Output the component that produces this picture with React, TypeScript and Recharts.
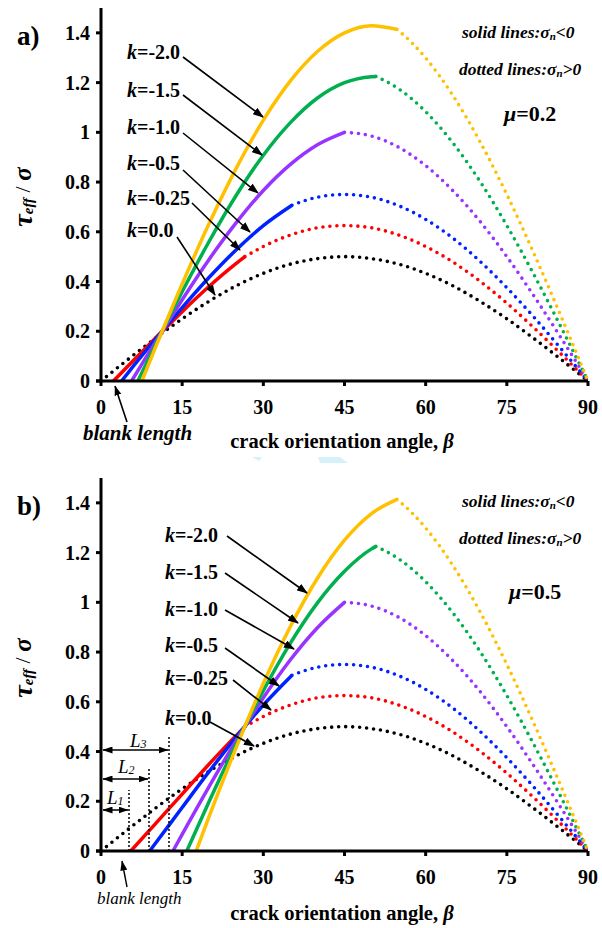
import { LineChart, Line, XAxis, YAxis } from "recharts";

type Pt = [number, number];

const serif = "'Liberation Serif', 'Times New Roman', serif";

const xTicks = [0, 15, 30, 45, 60, 75, 90];
const yTicks = [0, 0.2, 0.4, 0.6, 0.8, 1, 1.2, 1.4];
const kNames = ["-2.0", "-1.5", "-1.0", "-0.5", "-0.25", "0.0"];
const kColors = ["#FFC000", "#00B050", "#9933FF", "#0022FF", "#FF0000", "#000000"];

// dotted parts (sigma_n > 0) - same for both friction values
const dotK0: Pt[] = [[0, 0], [5, 0.087], [10, 0.171], [15, 0.25], [20, 0.321], [25, 0.383], [30, 0.433], [35, 0.47], [40, 0.492], [45, 0.5], [50, 0.492], [55, 0.47], [60, 0.433], [65, 0.383], [70, 0.321], [75, 0.25], [80, 0.171], [85, 0.087], [90, 0]];
const dotK025: Pt[] = [[26.6, 0.5], [30, 0.541], [35, 0.587], [40, 0.616], [45, 0.625], [50, 0.616], [55, 0.587], [60, 0.541], [65, 0.479], [70, 0.402], [75, 0.313], [80, 0.214], [85, 0.109], [90, 0]];
const dotK05: Pt[] = [[35.3, 0.707], [40, 0.739], [45, 0.75], [50, 0.739], [55, 0.705], [60, 0.65], [65, 0.575], [70, 0.482], [75, 0.375], [80, 0.257], [85, 0.13], [90, 0]];
const dotK10: Pt[] = [[45, 1], [50, 0.985], [55, 0.94], [60, 0.866], [65, 0.766], [70, 0.643], [75, 0.5], [80, 0.342], [85, 0.174], [90, 0]];
const dotK15: Pt[] = [[50.8, 1.225], [55, 1.175], [60, 1.083], [65, 0.958], [70, 0.804], [75, 0.625], [80, 0.428], [85, 0.217], [90, 0]];
const dotK20: Pt[] = [[54.7, 1.414], [57.5, 1.359], [60, 1.299], [65, 1.149], [70, 0.964], [75, 0.75], [80, 0.513], [85, 0.261], [90, 0]];

// solid parts (sigma_n < 0), mu = 0.2
const solA_K025: Pt[] = [[2.3, 0], [5, 0.06], [10, 0.171], [15, 0.279], [20, 0.381], [25, 0.473], [26.6, 0.5]];
const solA_K05: Pt[] = [[3.8, 0], [5, 0.033], [10, 0.166], [15, 0.295], [20, 0.417], [25, 0.528], [30, 0.625], [35.3, 0.707]];
const solA_K10: Pt[] = [[5.65, 0], [7.5, 0.066], [10, 0.154], [15, 0.327], [20, 0.49], [25, 0.637], [30, 0.766], [35, 0.871], [40, 0.95], [45, 1]];
const solA_K15: Pt[] = [[6.8, 0], [10, 0.143], [15, 0.359], [20, 0.562], [25, 0.747], [30, 0.908], [35, 1.039], [40, 1.138], [45, 1.2], [50, 1.224], [50.8, 1.225]];
const solA_K20: Pt[] = [[7.55, 0], [10, 0.131], [15, 0.39], [20, 0.634], [25, 0.856], [30, 1.049], [35, 1.207], [40, 1.325], [45, 1.4], [50, 1.429], [54.7, 1.414]];

// solid parts, mu = 0.5
const solB_K025: Pt[] = [[5.5, 0], [10, 0.108], [15, 0.229], [20, 0.35], [25, 0.465], [26.6, 0.5]];
const solB_K05: Pt[] = [[9, 0], [10, 0.029], [15, 0.175], [20, 0.32], [25, 0.459], [30, 0.587], [35.3, 0.707]];
const solB_K10: Pt[] = [[13.3, 0], [15, 0.067], [20, 0.26], [25, 0.445], [30, 0.616], [35, 0.769], [40, 0.898], [45, 1]];
const solB_K15: Pt[] = [[15.85, 0], [20, 0.2], [25, 0.431], [30, 0.645], [35, 0.836], [40, 0.998], [45, 1.125], [50, 1.215], [50.8, 1.225]];
const solB_K20: Pt[] = [[17.6, 0], [20, 0.14], [25, 0.417], [30, 0.674], [35, 0.903], [40, 1.097], [45, 1.25], [50, 1.357], [54.7, 1.414]];

const dottedSets = [dotK20, dotK15, dotK10, dotK05, dotK025, dotK0];
const solidA = [solA_K20, solA_K15, solA_K10, solA_K05, solA_K025, null];
const solidB = [solB_K20, solB_K15, solB_K10, solB_K05, solB_K025, null];

const toData = (pts: Pt[]) => pts.map(([b, v]) => ({ b, v }));

const tickStyle = { fill: "#000", fontSize: 20, fontWeight: "bold", fontFamily: serif };

function Panel({ solids, height, marginBottom }: { solids: (Pt[] | null)[]; height: number; marginBottom: number }) {
  // draw order: black first, yellow last
  const order = [5, 4, 3, 2, 1, 0];
  return (
    <LineChart width={602} height={height} margin={{ top: 8, right: 14, bottom: marginBottom, left: 0 }}>
      <XAxis
        type="number"
        dataKey="b"
        domain={[0, 90]}
        ticks={xTicks}
        interval={0}
        height={30}
        tickSize={5}
        tickMargin={14}
        axisLine={{ stroke: "#000", strokeWidth: 3 }}
        tickLine={{ stroke: "#000", strokeWidth: 3 }}
        tick={tickStyle}
        allowDuplicatedCategory={false}
      />
      <YAxis
        type="number"
        domain={[0, 1.5]}
        ticks={yTicks}
        interval={0}
        width={101}
        tickSize={5}
        tickMargin={6}
        axisLine={{ stroke: "#000", strokeWidth: 3 }}
        tickLine={{ stroke: "#000", strokeWidth: 3 }}
        tick={tickStyle}
      />
      {order.map((i) => (
        <Line
          key={"d" + i}
          data={toData(dottedSets[i])}
          dataKey="v"
          type="monotone"
          stroke={kColors[i]}
          strokeWidth={3.6}
          strokeDasharray="0 7"
          strokeLinecap="round"
          dot={false}
          activeDot={false}
          isAnimationActive={false}
        />
      ))}
      {order.map((i) =>
        solids[i] ? (
          <Line
            key={"s" + i}
            data={toData(solids[i] as Pt[])}
            dataKey="v"
            type="monotone"
            stroke={kColors[i]}
            strokeWidth={3.5}
            dot={false}
            activeDot={false}
            isAnimationActive={false}
          />
        ) : null
      )}
    </LineChart>
  );
}

function KLabel({ x, y, name }: { x: number; y: number; name: string }) {
  return (
    <text x={x} y={y} fontSize={20} fontWeight="bold" fontFamily={serif} dominantBaseline="central">
      <tspan fontStyle="italic">k</tspan>={name}
    </text>
  );
}

function Arrow({ a }: { a: number[] }) {
  return <line x1={a[0]} y1={a[1]} x2={a[2]} y2={a[3]} stroke="#000" strokeWidth={1.6} markerEnd="url(#ah)" />;
}

function SigmaNote({ x, y, word, sign }: { x: number; y: number; word: string; sign: string }) {
  return (
    <text x={x} y={y} fontSize={17.5} fontWeight="bold" fontStyle="italic" fontFamily={serif} dominantBaseline="central">
      {word} lines:σ<tspan fontSize={11} dy={4}>n</tspan>
      <tspan dy={-4}>{sign}0</tspan>
    </text>
  );
}

function YTitle({ cx, cy }: { cx: number; cy: number }) {
  return (
    <text
      x={cx}
      y={cy}
      transform={`rotate(-90 ${cx} ${cy})`}
      textAnchor="middle"
      dominantBaseline="central"
      fontFamily={serif}
      fontWeight="bold"
    >
      <tspan fontSize={28} fontStyle="italic">τ</tspan>
      <tspan fontSize={15} fontStyle="italic" dy={6}>eff</tspan>
      <tspan fontSize={22} fontWeight="normal" dy={-6}> / </tspan>
      <tspan fontSize={25} fontStyle="italic">σ</tspan>
    </text>
  );
}

function XTitle({ cx, cy }: { cx: number; cy: number }) {
  return (
    <text x={cx} y={cy} textAnchor="middle" dominantBaseline="central" fontFamily={serif} fontWeight="bold" fontSize={20.5}>
      crack orientation angle, <tspan fontStyle="italic">β</tspan>
    </text>
  );
}

function LLabel({ x, y, n }: { x: number; y: number; n: string }) {
  return (
    <text x={x} y={y} dominantBaseline="central" fontSize={19} fontStyle="italic" fontFamily={serif}>
      L<tspan fontSize={12} dy={4}>{n}</tspan>
    </text>
  );
}

const kYA = [52, 90, 127, 163, 198, 230];
const kYB = [535, 572, 609, 645, 678, 718];
const arrowsA = [[183, 57, 263, 117], [183, 95, 262, 155], [183, 133, 258, 193], [183, 170, 250, 232], [192, 203, 240, 250], [177, 237, 215, 295]];
const arrowsB = [[227, 536, 307, 593], [225, 573, 298, 623], [225, 610, 294, 649], [225, 648, 279, 686], [233, 680, 271, 710], [210, 722, 254, 746]];

function Overlay() {
  return (
    <svg width={602} height={928} style={{ position: "absolute", left: 0, top: 0, pointerEvents: "none" }}>
      <defs>
        <marker id="ah" markerWidth={11} markerHeight={8} refX={10} refY={4} orient="auto-start-reverse" markerUnits="userSpaceOnUse">
          <path d="M0,0 L11,4 L0,8 z" fill="#000" />
        </marker>
        <marker id="ah2" markerWidth={10} markerHeight={7} refX={9.5} refY={3.5} orient="auto-start-reverse" markerUnits="userSpaceOnUse">
          <path d="M0,0 L10,3.5 L0,7 z" fill="#000" />
        </marker>
      </defs>

      {/* small stubs of the x axes left of the y axes */}
      <line x1={96} y1={381} x2={101} y2={381} stroke="#000" strokeWidth={3} />
      <line x1={96} y1={851} x2={101} y2={851} stroke="#000" strokeWidth={3} />
      {/* faint scan artefact under panel a */}
      <polygon points="252,457 262,457 259,461" fill="#D6F0FC" />
      <polygon points="318,457 340,457 348,463 320,463" fill="#D6F0FC" />

      {/* panel a */}
      <text x={17} y={36} dominantBaseline="central" fontSize={27} fontWeight="bold" fontFamily={serif}>a)</text>
      {kNames.map((n, i) => <KLabel key={"ka" + i} x={127} y={kYA[i]} name={n} />)}
      {arrowsA.map((a, i) => <Arrow key={"aa" + i} a={a} />)}
      <SigmaNote x={462} y={32} word="solid" sign="<" />
      <SigmaNote x={459} y={69} word="dotted" sign=">" />
      <text x={504} y={113} dominantBaseline="central" fontSize={22} fontWeight="bold" fontFamily={serif}>
        <tspan fontStyle="italic">μ</tspan>=0.2
      </text>
      <line x1={127} y1={422} x2={115} y2={386} stroke="#000" strokeWidth={1.6} markerEnd="url(#ah2)" />
      <text x={83} y={433} dominantBaseline="central" fontSize={21} fontWeight="bold" fontStyle="italic" fontFamily={serif}>blank length</text>
      <YTitle cx={22} cy={197} />
      <XTitle cx={342} cy={441} />

      {/* panel b */}
      <text x={17} y={506} dominantBaseline="central" fontSize={27} fontWeight="bold" fontFamily={serif}>b)</text>
      {kNames.map((n, i) => <KLabel key={"kb" + i} x={165} y={kYB[i]} name={n} />)}
      {arrowsB.map((a, i) => <Arrow key={"ab" + i} a={a} />)}
      <SigmaNote x={462} y={501} word="solid" sign="<" />
      <SigmaNote x={459} y={538} word="dotted" sign=">" />
      <text x={509} y={591} dominantBaseline="central" fontSize={22} fontWeight="bold" fontFamily={serif}>
        <tspan fontStyle="italic">μ</tspan>=0.5
      </text>
      {/* L1, L2, L3 blank lengths */}
      <line x1={129} y1={851} x2={129} y2={790} stroke="#000" strokeWidth={1.5} strokeDasharray="2 2" />
      <line x1={149} y1={851} x2={149} y2={768} stroke="#000" strokeWidth={1.5} strokeDasharray="2 2" />
      <line x1={169} y1={851} x2={169} y2={735} stroke="#000" strokeWidth={1.5} strokeDasharray="2 2" />
      <line x1={103} y1={810} x2={128} y2={810} stroke="#000" strokeWidth={1.5} markerStart="url(#ah2)" markerEnd="url(#ah2)" />
      <line x1={103} y1={779} x2={148} y2={779} stroke="#000" strokeWidth={1.5} markerStart="url(#ah2)" markerEnd="url(#ah2)" />
      <line x1={103} y1={750} x2={168} y2={750} stroke="#000" strokeWidth={1.5} markerStart="url(#ah2)" markerEnd="url(#ah2)" />
      <LLabel x={107} y={797} n="1" />
      <LLabel x={118} y={766} n="2" />
      <LLabel x={130} y={740} n="3" />
      <line x1={127} y1={887} x2={122} y2={861} stroke="#000" strokeWidth={1.4} markerEnd="url(#ah2)" />
      <text x={97} y={898} dominantBaseline="central" fontSize={17} fontStyle="italic" fontFamily={serif}>blank length</text>
      <YTitle cx={22} cy={668} />
      <XTitle cx={342} cy={913} />
    </svg>
  );
}

export default function App() {
  return (
    <div style={{ position: "absolute", left: 0, top: 0, width: 602, height: 928, background: "#fff", fontFamily: serif }}>
      <div style={{ position: "absolute", left: 0, top: 0 }}>
        <Panel solids={solidA} height={470} marginBottom={59} />
      </div>
      <div style={{ position: "absolute", left: 0, top: 470 }}>
        <Panel solids={solidB} height={458} marginBottom={47} />
      </div>
      <Overlay />
    </div>
  );
}
